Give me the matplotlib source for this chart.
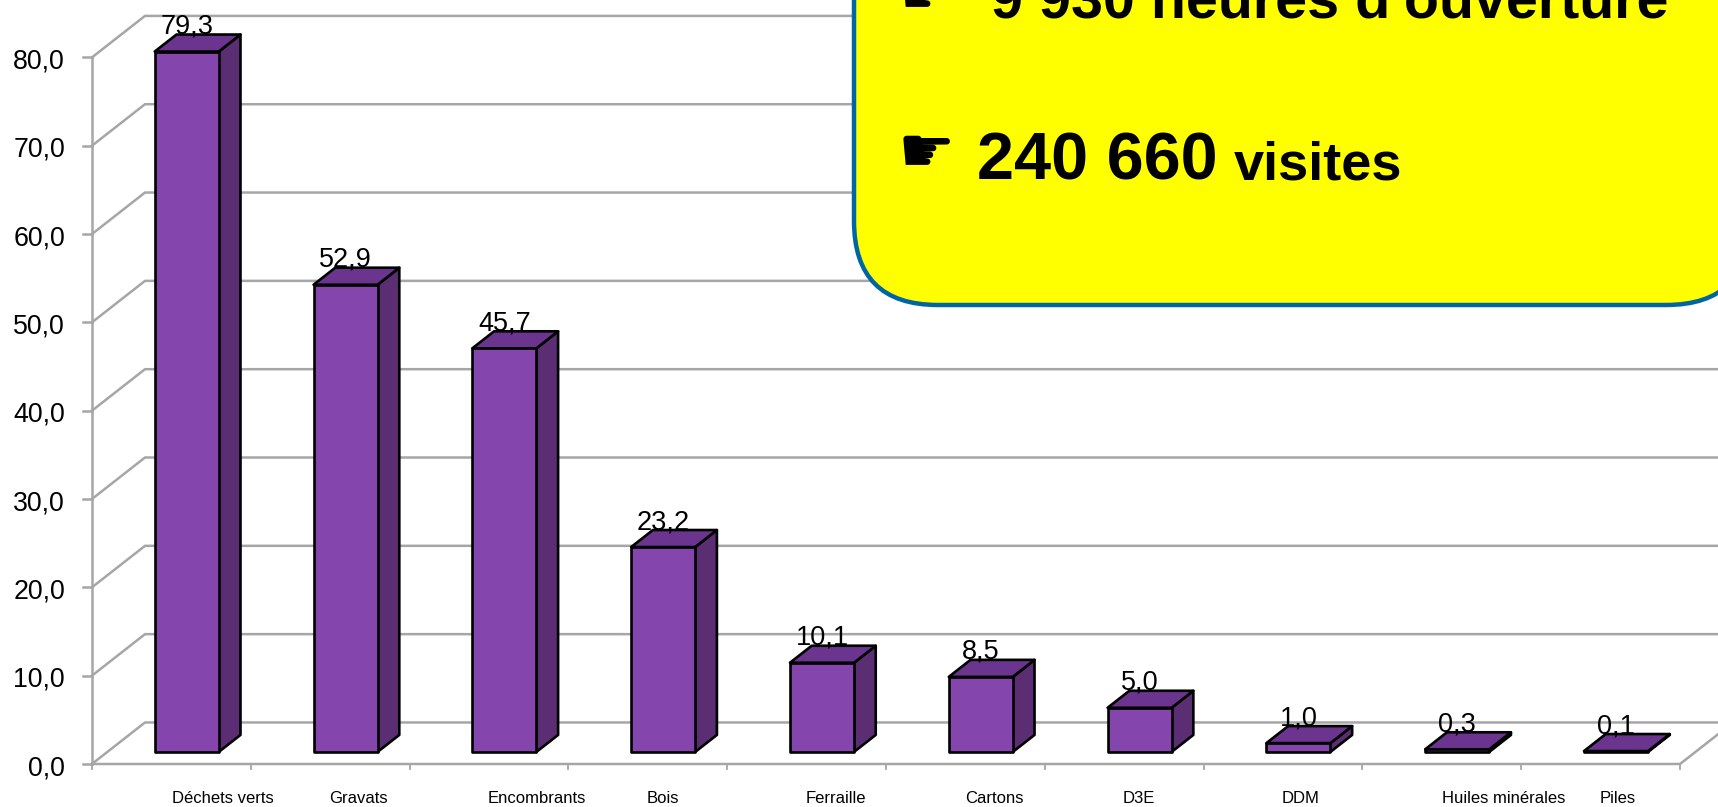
import matplotlib
matplotlib.use('Agg')
import matplotlib.pyplot as plt
from matplotlib.patches import Polygon, FancyBboxPatch

categories = ['Déchets verts', 'Gravats', 'Encombrants', 'Bois', 'Ferraille',
              'Cartons', 'D3E', 'DDM', 'Huiles minérales', 'Piles']
values = [79.3, 52.9, 45.7, 23.2, 10.1, 8.5, 5.0, 1.0, 0.3, 0.1]
value_labels = ['79,3', '52,9', '45,7', '23,2', '10,1', '8,5', '5,0', '1,0', '0,3', '0,1']
y_ticks = [0, 10, 20, 30, 40, 50, 60, 70, 80]
y_tick_labels = ['0,0', '10,0', '20,0', '30,0', '40,0', '50,0', '60,0', '70,0', '80,0']
# les etiquettes du bas ne sont pas centrees sur les categories
category_label_x = [0.823, 1.681, 2.802, 3.596, 4.682, 5.68, 6.593, 7.613, 8.888, 9.61]

FONT = 'Liberation Sans'
GREY = '#a6a6a6'
FRONT = '#8446ac'
SIDE = '#5b2e73'
TOP = '#6b358f'

# profondeur de la perspective, en unites de l'axe
DEPTH_X = 0.334
DEPTH_Y = 4.7
BAR_FRONT = 0.29
BAR_BACK = 0.70
BAR_W = 0.403


def draw_bar(ax, i, v):
    x0 = i + 0.5 - BAR_W / 2 + BAR_FRONT * DEPTH_X
    x1 = x0 + BAR_W
    y0 = BAR_FRONT * DEPTH_Y
    y1 = y0 + v
    dx = (BAR_BACK - BAR_FRONT) * DEPTH_X
    dy = (BAR_BACK - BAR_FRONT) * DEPTH_Y
    style = dict(edgecolor='black', linewidth=1.9, joinstyle='round', zorder=3)
    ax.add_patch(Polygon([(x1, y0), (x1 + dx, y0 + dy), (x1 + dx, y1 + dy), (x1, y1)],
                         facecolor=SIDE, **style))
    ax.add_patch(Polygon([(x0, y1), (x1, y1), (x1 + dx, y1 + dy), (x0 + dx, y1 + dy)],
                         facecolor=TOP, **style))
    ax.add_patch(Polygon([(x0, y0), (x1, y0), (x1, y1), (x0, y1)],
                         facecolor=FRONT, **style))
    ax.text((x0 + x1) / 2, y1 + dy + 0.1, value_labels[i], ha='center', va='baseline',
            fontsize=19.5, family=FONT, color='black', zorder=4)


def main():
    fig = plt.figure(figsize=(17.18, 8.07), dpi=100)
    ax = fig.add_axes([0, 0, 1, 1])
    ax.set_xlim(-0.579, 10.239)
    ax.set_ylim(-4.87, 86.5)
    ax.axis('off')

    # grille de fond et parois
    n = len(categories)
    for t, lab in zip(y_ticks, y_tick_labels):
        ax.plot([0, DEPTH_X, n + DEPTH_X], [t, t + DEPTH_Y, t + DEPTH_Y],
                color=GREY, linewidth=1.8, zorder=1)
        ax.plot([-0.055, 0], [t, t], color=GREY, linewidth=1.8, zorder=1)
        ax.text(-0.17, t - 1.25, lab, ha='right', va='baseline', fontsize=19.3,
                family=FONT, color='black')
    ax.plot([0, 0], [0, y_ticks[-1]], color=GREY, linewidth=1.8, zorder=1)
    ax.plot([0, n, n + DEPTH_X], [0, 0, DEPTH_Y], color=GREY, linewidth=1.8, zorder=1)
    for i in range(n + 1):
        ax.plot([i, i], [0, -0.6], color=GREY, linewidth=1.3, zorder=1)

    for i, v in enumerate(values):
        draw_bar(ax, i, v)

    for name, x in zip(categories, category_label_x):
        ax.text(x, -4.4, name, ha='center', va='baseline', fontsize=12, family=FONT)

    # encadre jaune, en pixels de l'image
    ov = fig.add_axes([0, 0, 1, 1], zorder=5)
    ov.set_xlim(0, 1718)
    ov.set_ylim(807, 0)
    ov.axis('off')
    ov.patch.set_alpha(0)
    ov.add_patch(FancyBboxPatch((854, -200), 896, 505, boxstyle='round,pad=0,rounding_size=84',
                                facecolor='#ffff00', edgecolor='#0065a4', linewidth=3.2))
    ov.text(991, 18, "9 930 heures d'ouverture", fontsize=41.3, fontweight='bold',
            family=FONT, ha='left', va='baseline')
    ov.text(977, 180, '240 660', fontsize=48, fontweight='bold', family=FONT,
            ha='left', va='baseline')
    ov.text(1234, 180, 'visites', fontsize=39, fontweight='bold', family=FONT,
            ha='left', va='baseline')
    ov.text(926, 172, '☛', fontsize=46, family='DejaVu Sans', ha='center', va='baseline')
    ov.text(926, 14, '☛', fontsize=46, family='DejaVu Sans', ha='center', va='baseline')

    fig.savefig('out.png', dpi=100)


if __name__ == '__main__':
    main()
